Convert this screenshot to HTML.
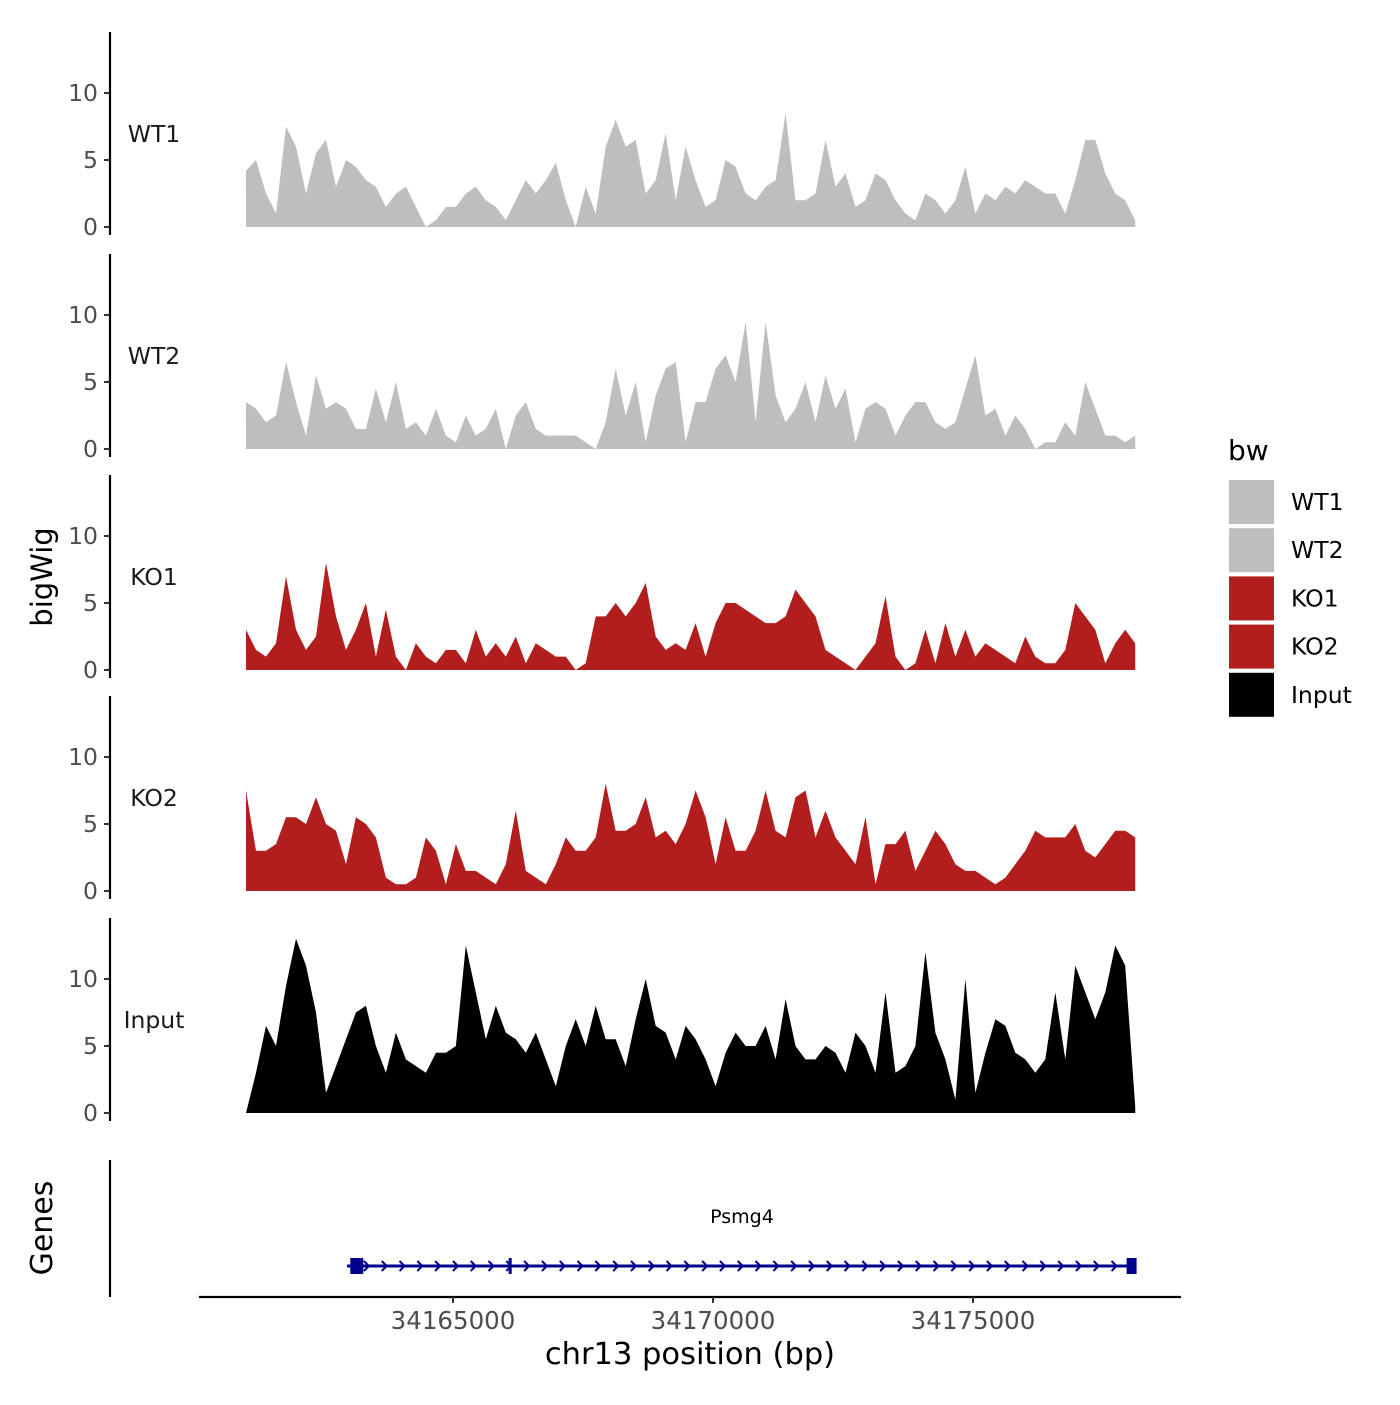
<!DOCTYPE html>
<html><head><meta charset="utf-8">
<style>
body{margin:0;background:#fff;}
svg text{font-family:"DejaVu Sans","Liberation Sans",sans-serif;}
</style></head>
<body>
<svg id="chart" width="1400" height="1400" viewBox="0 0 1400 1400" xmlns="http://www.w3.org/2000/svg">
<rect width="1400" height="1400" fill="#fff"/>
<g id="tracks"></g>
<g id="genes"></g>
<g id="legend"></g>
</svg>
<script>
const trackNames = ["WT1","WT2","KO1","KO2","Input"];
const trackColors = ["#bebebe","#bebebe","#b21e1e","#b21e1e","#000000"];
const yTicks = [0,5,10];
const xTicks = [34165000,34170000,34175000];
const wt1 = [4.2,5,2.5,1,7.5,6,2.5,5.5,6.5,3,5,4.5,3.5,3,1.5,2.5,3,1.5,0,0.5,1.5,1.5,2.5,3,2,1.5,0.5,2,3.5,2.5,3.5,4.8,2,0,3,1,6,8,6,6.5,2.5,3.5,7,2,6,3.5,1.5,2,5,4.5,2.5,2,3,3.5,8.5,2,2,2.5,6.5,3,4,1.5,2,4,3.5,2,1,0.5,2.5,2,1,2,4.5,1,2.5,2,3,2.5,3.5,3,2.5,2.5,1,3.5,6.5,6.5,4,2.5,2,0.5];
const wt2 = [3.5,3,2,2.5,6.5,3.5,1,5.5,3,3.5,3,1.5,1.5,4.5,2,5,1.5,2,1,3,1,0.5,2.5,1,1.5,3,0,2.5,3.5,1.5,1,1,1,1,0.5,0,2,6,2.5,5,0.5,4,6,6.5,0.5,3.5,3.5,6,7,5,9.5,2,9.5,4,2,3,5,2,5.5,3,4.5,0.5,3,3.5,3,1,2.5,3.5,3.5,2,1.5,2,4.5,7,2.5,3,1,2.5,1.5,0,0.5,0.5,2,1,5,3,1,1,0.5,1];
const ko1 = [3,1.5,1,2,7,3,1.5,2.5,8,4,1.5,3,5,1,4.5,1,0,2,1,0.5,1.5,1.5,0.5,3,1,2,1,2.5,0.5,2,1.5,1,1,0,0.5,4,4,5,4,5,6.5,2.5,1.5,2,1.5,3.5,1,3.5,5,5,4.5,4,3.5,3.5,4,6,5,4,1.5,1,0.5,0,1,2,5.5,1,0,0.5,3,0.5,3.5,1,3,1,2,1.5,1,0.5,2.5,1,0.5,0.5,1.5,5,4,3,0.5,2,3,2];
const ko2 = [7.5,3,3,3.5,5.5,5.5,5,7,5,4.5,2,5.5,5,4,1,0.5,0.5,1,4,3,0.5,3.5,1.5,1.5,1,0.5,2,6,1.5,1,0.5,2,4,3,3,4,8,4.5,4.5,5,7,4,4.5,3.5,5,7.5,5.5,2,5.5,3,3,4.5,7.5,4.5,4,7,7.5,4,6,4,3,2,5.5,0.5,3.5,3.5,4.5,1.5,3,4.5,3.5,2,1.5,1.5,1,0.5,1,2,3,4.5,4,4,4,5,3,2.5,3.5,4.5,4.5,4];
const input = [0,3,6.5,5,9.5,13,11,7.5,1.5,3.5,5.5,7.5,8,5,3,6,4,3.5,3,4.5,4.5,5,12.5,9,5.5,8,6,5.5,4.5,6,4,2,5,7,5,8,5.5,5.5,3.5,7,10,6.5,6,4,6.5,5.5,4,2,4.5,6,5,5,6.5,4,8.5,5,4,4,5,4.5,3,6,5,3,9,3,3.5,5,12,6,4,1,10,1.5,4.5,7,6.5,4.5,4,3,4,9,4,11,9,7,9,12.5,11,0.5];
const series = [wt1,wt2,ko1,ko2,input];
const geneName = ["Psmg4"];
const geneStart = [34162960];
const geneEnd = [34178100];
const exonStarts = [34163150,34166100,34178050];

const NS="http://www.w3.org/2000/svg";
function el(tag,attrs,parent,txt){const e=document.createElementNS(NS,tag);for(const k in attrs)e.setAttribute(k,attrs[k]);if(txt!==undefined)e.textContent=txt;parent.appendChild(e);return e;}
const dataStart=34161020, dataEnd=34178120;
const xScale=v=>453+(v-34165000)*0.052;
const zeros=[227,449,670,891,1113];
const pxPerUnit=13.4;
const tracks=document.getElementById('tracks');

trackNames.forEach((nm,ti)=>{
  const g=el('g',{},tracks);
  
  
  const z=zeros[ti];
  const y=v=>z-v*pxPerUnit;
  const vals=series[ti];const n=vals.length;
  let d='M'+xScale(dataStart)+','+z;
  vals.forEach((v,i)=>{const gx=dataStart+i*(dataEnd-dataStart)/(n-1);d+=' L'+xScale(gx).toFixed(1)+','+y(v).toFixed(1);});
  d+=' L'+xScale(dataEnd)+','+z+' Z';
  const p=el('path',{d:d,fill:trackColors[ti]},g);
  
  
  const ax=el('line',{x1:110,x2:110,y1:z-195,y2:z+8,stroke:'#000','stroke-width':2.2},g);
  
  
  yTicks.forEach(t=>{
    el('line',{x1:104,x2:110,y1:y(t),y2:y(t),stroke:'#333','stroke-width':2},g);
    const tl=el('text',{x:98,y:y(t)+8,'text-anchor':'end','font-size':23.5,fill:'#4d4d4d'},g,String(t));
    
    
  });
  const lb=el('text',{x:154,y:z-85,'text-anchor':'middle','font-size':23.5,fill:'#1a1a1a'},g,nm);
  
  
});
const yt=el('text',{x:0,y:0,'text-anchor':'middle','font-size':29,fill:'#000',transform:'translate(52,577) rotate(-90)'},tracks,'bigWig');



// genes
const gg=document.getElementById('genes');
el('line',{x1:110,x2:110,y1:1160,y2:1297,stroke:'#000','stroke-width':2.2},gg);
const gt=el('text',{x:0,y:0,'text-anchor':'middle','font-size':30,fill:'#000',transform:'translate(52,1228) rotate(-90)'},gg,'Genes');


geneName.forEach((nm,gi)=>{
  const x1=xScale(geneStart[gi]),x2=xScale(geneEnd[gi]);
  const gy=1266;
  const line=el('line',{x1:x1,x2:x2,y1:gy,y2:gy,stroke:'#00008b','stroke-width':3},gg);
  
  
  for(let ax=x1+20;ax<x2-8;ax+=17.8){
    el('path',{d:`M${ax-3},${gy-5} L${ax+2},${gy} L${ax-3},${gy+5}`,fill:'none',stroke:'#00008b','stroke-width':2},gg);
  }
  exonStarts.forEach((e,k)=>{
    const ex=xScale(e);
    const w=k===1?3:(k===0?13:10);
    const h=16;
    const r=el('rect',{x:ex-w/2,y:gy-h/2,width:w,height:h,fill:'#00008b'},gg);
    
    
  });
  const t=el('text',{x:742,y:1223,'text-anchor':'middle','font-size':19,fill:'#000'},gg,nm);
  
  
});
// x axis
const xa=el('line',{x1:199,x2:1181,y1:1297,y2:1297,stroke:'#000','stroke-width':2.2},gg);


xTicks.forEach(t=>{
  el('line',{x1:xScale(t),x2:xScale(t),y1:1297,y2:1303,stroke:'#333','stroke-width':2},gg);
  const tl=el('text',{x:xScale(t),y:1329,'text-anchor':'middle','font-size':24.5,fill:'#4d4d4d'},gg,String(t));
  
  
});
const xt=el('text',{x:690,y:1364,'text-anchor':'middle','font-size':30.5,fill:'#000'},gg,'chr13 position (bp)');



// legend
const lg=document.getElementById('legend');
const lt=el('text',{x:1228,y:460,'font-size':28,fill:'#000'},lg,'bw');


trackNames.forEach((nm,i)=>{
  const y=480+i*48.2;
  const r=el('rect',{x:1229,y:y,width:45,height:44,fill:trackColors[i]},lg);
  
  
  const t=el('text',{x:1291,y:y+30,'font-size':23.5,fill:'#000'},lg,nm);
  
  
});
</script>
</body></html>
